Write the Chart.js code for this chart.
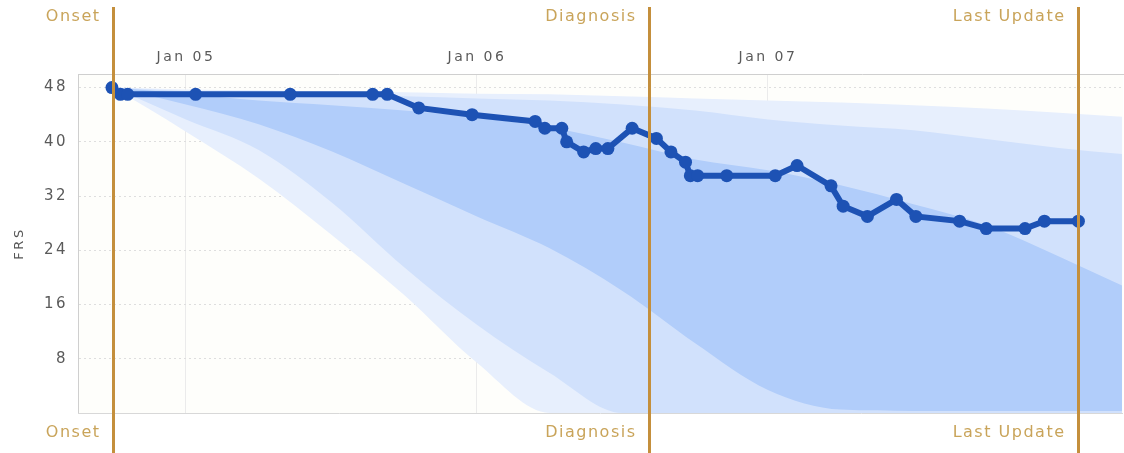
<!DOCTYPE html>
<html>
<head>
<meta charset="utf-8">
<script src="https://cdn.jsdelivr.net/npm/chart.js@4/dist/chart.umd.min.js"></script>
<style>
  html, body { margin: 0; padding: 0; background: #ffffff; }
  #wrap { width: 1124px; height: 453px; }
</style>
</head>
<body>
<div id="wrap"><canvas id="c" width="1124" height="453"></canvas></div>
<script>
// Time is measured in months from Jan 2005.
const frsMonths = [-3.05, -2.7, -2.4, 0.4, 4.3, 7.7, 8.3, 9.6, 11.8, 14.4, 14.8, 15.5, 15.7, 16.4, 16.9, 17.4,
                   18.4, 19.4, 20.0, 20.6, 20.8, 21.1, 22.3, 24.3, 25.2, 26.6, 27.1, 28.1, 29.3, 30.1, 31.9,
                   33.0, 34.6, 35.4, 36.8];
const frsValues = [48, 47, 47, 47, 47, 47, 47, 45, 44, 43, 42, 42, 40, 38.5, 39, 39,
                   42, 40.5, 38.5, 37, 35, 35, 35, 35, 36.5, 33.5, 30.5, 29, 31.5, 29, 28.3,
                   27.2, 27.2, 28.3, 28.3];

// Predicted progression bands (outer, middle, inner)
const bandMonths = [-3, 0, 3, 6, 9, 12, 15, 18, 21, 24, 27, 30, 33, 36, 38.6];
const outerUpper = [48, 47.7, 47.6, 47.4, 47.3, 47.1, 47.0, 46.7, 46.4, 46.1, 45.8, 45.4, 44.9, 44.3, 43.7];
const outerLower = [48, 41.5, 34.6, 26.3, 17.4, 7.4, 0, 0, 0, 0, 0, 0, 0, 0, 0];
const middleUpper = [48, 47.5, 47.3, 47.0, 46.7, 46.4, 46.1, 45.5, 44.6, 43.3, 42.4, 41.7, 40.4, 39.1, 38.2];
const middleLower = [48, 43.3, 38.8, 31.1, 21.5, 13.0, 5.9, 0, 0, 0, 0, 0, 0, 0, 0];
const innerUpper = [48, 47.1, 46.1, 45.4, 44.6, 43.6, 42.1, 39.9, 37.4, 35.8, 33.6, 30.8, 27.7, 23.1, 18.8];
const innerLower = [48, 45.5, 42.6, 38.6, 33.8, 29.0, 24.3, 18.0, 10.3, 3.4, 0.5, 0.3, 0.3, 0.3, 0.3];

const xTickMonths = [0, 12, 24];
const xTickLabels = ['Jan 05', 'Jan 06', 'Jan 07'];
const yTickValues = [8, 16, 24, 32, 40, 48];

const markerNames = ['Onset', 'Diagnosis', 'Last Update'];
const markerMonths = [-3, 19.1, 36.8];

const pts = (xs, ys) => xs.map((x, i) => ({ x: x, y: ys[i] }));

function band(values, color, fill) {
  return {
    data: pts(bandMonths, values),
    borderWidth: 0,
    pointRadius: 0,
    backgroundColor: color,
    fill: fill,
    cubicInterpolationMode: 'monotone'
  };
}

const LINE_BLUE = '#1d52b4';

const plotBackground = {
  id: 'plotBackground',
  beforeDraw(chart) {
    const { ctx, chartArea: a } = chart;
    // spaced-out lettering for every label on the chart
    ctx.letterSpacing = '2.5px';
    ctx.save();
    ctx.fillStyle = '#fefefb';
    ctx.fillRect(a.left, a.top, a.right - a.left, a.bottom - a.top);
    ctx.restore();
  },
  afterDatasetsDraw(chart) {
    const { ctx, chartArea: a } = chart;
    ctx.save();
    ctx.strokeStyle = '#d8d8d8';
    ctx.lineWidth = 1;
    ctx.beginPath();
    ctx.moveTo(a.left, a.bottom + 0.5);
    ctx.lineTo(a.right, a.bottom + 0.5);
    ctx.stroke();
    ctx.restore();
  }
};

const eventMarkers = {
  id: 'eventMarkers',
  afterDatasetsDraw(chart) {
    const { ctx } = chart;
    const xs = chart.scales.x;
    ctx.save();
    markerMonths.forEach((m, i) => {
      const x = Math.round(xs.getPixelForValue(m)) + 0.5;
      ctx.strokeStyle = '#c48f3c';
      ctx.lineWidth = 3;
      ctx.beginPath();
      ctx.moveTo(x, 7);
      ctx.lineTo(x, chart.height);
      ctx.stroke();
      ctx.fillStyle = '#c9a45a';
      ctx.font = '16px "DejaVu Sans"';
      ctx.letterSpacing = '1.5px';
      ctx.textAlign = 'right';
      ctx.textBaseline = 'middle';
      ctx.fillText(markerNames[i], x - 13, 17);
      ctx.fillText(markerNames[i], x - 13, 433);
    });
    ctx.restore();
  }
};

new Chart(document.getElementById('c'), {
  type: 'line',
  data: {
    datasets: [
      {
        data: pts(frsMonths, frsValues),
        borderColor: LINE_BLUE,
        backgroundColor: LINE_BLUE,
        borderWidth: 6,
        pointRadius: 6.5,
        pointBorderWidth: 0,
        pointBackgroundColor: LINE_BLUE,
        fill: false,
        tension: 0,
        clip: false
      },
      band(innerUpper, '#b1cdfa', '+1'),
      band(innerLower, '#b1cdfa', false),
      band(middleUpper, '#d1e1fc', '+1'),
      band(middleLower, '#d1e1fc', false),
      band(outerUpper, '#e7effd', '+1'),
      band(outerLower, '#e7effd', false)
    ]
  },
  options: {
    responsive: false,
    animation: false,
    devicePixelRatio: 1,
    layout: { autoPadding: false, padding: { top: 0, bottom: 40, left: 0, right: 1 } },
    plugins: { legend: { display: false }, tooltip: { enabled: false } },
    scales: {
      x: {
        type: 'linear',
        position: 'top',
        min: -4.45,
        max: 38.64,
        afterBuildTicks(scale) { scale.ticks = xTickMonths.map(v => ({ value: v })); },
        afterFit(scale) { scale.height = 74; },
        ticks: {
          callback: v => xTickLabels[xTickMonths.indexOf(v)],
          font: { family: 'DejaVu Sans', size: 14 },
          color: '#5a5a5a',
          padding: 8,
          maxRotation: 0
        },
        grid: { color: '#ebebeb', drawTicks: false },
        border: { display: true, color: '#cfcfcf' }
      },
      y: {
        min: 0,
        max: 50,
        afterBuildTicks(scale) { scale.ticks = yTickValues.map(v => ({ value: v })); },
        afterFit(scale) { scale.width = 78; },
        ticks: {
          font: { family: 'DejaVu Sans', size: 15 },
          color: '#5a5a5a',
          padding: 10
        },
        grid: { color: '#dedede', drawTicks: false },
        border: { display: true, color: '#cfcfcf', dash: [2, 3] },
        title: {
          display: true,
          text: 'FRS',
          font: { family: 'DejaVu Sans', size: 13 },
          color: '#555555',
          padding: { top: 12, bottom: 0 }
        }
      }
    }
  },
  plugins: [plotBackground, eventMarkers]
});
</script>
</body>
</html>
